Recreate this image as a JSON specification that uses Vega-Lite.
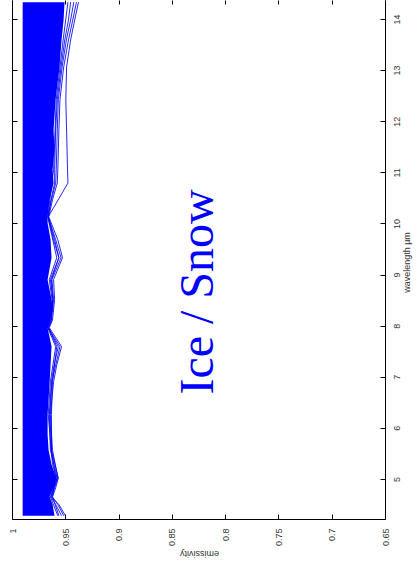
{
  "$schema": "https://vega.github.io/schema/vega-lite/v6.json",
  "autosize": {"type": "none"},
  "padding": {"left": 12, "top": 0, "right": 32, "bottom": 53},
  "width": 373,
  "height": 519,
  "background": "white",
  "config": {
    "view": {"stroke": null},
    "axis": {"grid": false, "domainColor": "#000", "tickColor": "#000", "labelColor": "#333", "titleColor": "#333", "labelFont": "Liberation Sans", "titleFont": "Liberation Sans", "labelFontSize": 9, "titleFontSize": 9, "titleFontWeight": "normal", "domainWidth": 1, "tickWidth": 1}
  },
  "datasets": {
    "inner": [
      {"w": 14.33, "e": 0.9507, "emax": 0.99}, {"w": 13.98, "e": 0.9516, "emax": 0.99}, {"w": 13.59, "e": 0.9535, "emax": 0.99}, {"w": 13.06, "e": 0.9554, "emax": 0.99},
      {"w": 12.42, "e": 0.9591, "emax": 0.99}, {"w": 11.83, "e": 0.9610, "emax": 0.99}, {"w": 11.44, "e": 0.9601, "emax": 0.99}, {"w": 11.05, "e": 0.9619, "emax": 0.99},
      {"w": 10.79, "e": 0.9610, "emax": 0.99}, {"w": 10.46, "e": 0.9647, "emax": 0.99}, {"w": 10.13, "e": 0.9666, "emax": 0.99}, {"w": 10.01, "e": 0.9666, "emax": 0.99},
      {"w": 9.68, "e": 0.9638, "emax": 0.99}, {"w": 9.33, "e": 0.9629, "emax": 0.99}, {"w": 8.90, "e": 0.9666, "emax": 0.99}, {"w": 8.51, "e": 0.9629, "emax": 0.99},
      {"w": 8.37, "e": 0.9619, "emax": 0.99}, {"w": 8.11, "e": 0.9638, "emax": 0.99}, {"w": 7.96, "e": 0.9666, "emax": 0.99}, {"w": 7.59, "e": 0.9629, "emax": 0.99},
      {"w": 7.23, "e": 0.9638, "emax": 0.99}, {"w": 6.90, "e": 0.9647, "emax": 0.99}, {"w": 6.55, "e": 0.9657, "emax": 0.99}, {"w": 6.26, "e": 0.9666, "emax": 0.99},
      {"w": 5.87, "e": 0.9666, "emax": 0.99}, {"w": 5.57, "e": 0.9657, "emax": 0.99}, {"w": 5.28, "e": 0.9629, "emax": 0.99}, {"w": 5.02, "e": 0.9582, "emax": 0.99},
      {"w": 4.83, "e": 0.9610, "emax": 0.99}, {"w": 4.65, "e": 0.9647, "emax": 0.99}, {"w": 4.50, "e": 0.9619, "emax": 0.99}, {"w": 4.28, "e": 0.9601, "emax": 0.99}
    ],
    "lines": [
      {"id": 1, "w": 14.33, "e": 0.9376}, {"id": 1, "w": 13.98, "e": 0.9412}, {"id": 1, "w": 13.59, "e": 0.9450}, {"id": 1, "w": 13.06, "e": 0.9488},
      {"id": 1, "w": 12.42, "e": 0.9495}, {"id": 1, "w": 11.83, "e": 0.9488}, {"id": 1, "w": 11.05, "e": 0.9479}, {"id": 1, "w": 10.79, "e": 0.9475},
      {"id": 1, "w": 10.13, "e": 0.9660}, {"id": 1, "w": 9.68, "e": 0.9600}, {"id": 1, "w": 9.33, "e": 0.9560}, {"id": 1, "w": 8.90, "e": 0.9630},
      {"id": 1, "w": 8.51, "e": 0.9620}, {"id": 1, "w": 8.11, "e": 0.9630}, {"id": 1, "w": 7.96, "e": 0.9655}, {"id": 1, "w": 7.59, "e": 0.9580},
      {"id": 1, "w": 6.90, "e": 0.9620}, {"id": 1, "w": 6.26, "e": 0.9630}, {"id": 1, "w": 5.57, "e": 0.9630}, {"id": 1, "w": 5.02, "e": 0.9590},
      {"id": 1, "w": 4.65, "e": 0.9620}, {"id": 1, "w": 4.28, "e": 0.9560},

      {"id": 2, "w": 14.33, "e": 0.9395}, {"id": 2, "w": 13.98, "e": 0.9430}, {"id": 2, "w": 13.59, "e": 0.9470}, {"id": 2, "w": 13.06, "e": 0.9515},
      {"id": 2, "w": 12.42, "e": 0.9550}, {"id": 2, "w": 11.83, "e": 0.9560}, {"id": 2, "w": 11.05, "e": 0.9570}, {"id": 2, "w": 10.79, "e": 0.9575},
      {"id": 2, "w": 10.46, "e": 0.9620}, {"id": 2, "w": 10.13, "e": 0.9655}, {"id": 2, "w": 9.68, "e": 0.9570}, {"id": 2, "w": 9.33, "e": 0.9526},
      {"id": 2, "w": 8.90, "e": 0.9610}, {"id": 2, "w": 8.51, "e": 0.9600}, {"id": 2, "w": 8.11, "e": 0.9620}, {"id": 2, "w": 7.96, "e": 0.9650},
      {"id": 2, "w": 7.59, "e": 0.9535}, {"id": 2, "w": 7.23, "e": 0.9580}, {"id": 2, "w": 6.90, "e": 0.9610}, {"id": 2, "w": 6.26, "e": 0.9640},
      {"id": 2, "w": 5.57, "e": 0.9620}, {"id": 2, "w": 5.02, "e": 0.9570}, {"id": 2, "w": 4.83, "e": 0.9600}, {"id": 2, "w": 4.65, "e": 0.9630},
      {"id": 2, "w": 4.50, "e": 0.9560}, {"id": 2, "w": 4.28, "e": 0.9498},

      {"id": 3, "w": 14.33, "e": 0.9420}, {"id": 3, "w": 13.98, "e": 0.9450}, {"id": 3, "w": 13.59, "e": 0.9490}, {"id": 3, "w": 13.06, "e": 0.9530},
      {"id": 3, "w": 12.42, "e": 0.9565}, {"id": 3, "w": 11.83, "e": 0.9575}, {"id": 3, "w": 11.05, "e": 0.9585}, {"id": 3, "w": 10.79, "e": 0.9590},
      {"id": 3, "w": 10.46, "e": 0.9630}, {"id": 3, "w": 10.13, "e": 0.9660}, {"id": 3, "w": 9.68, "e": 0.9590}, {"id": 3, "w": 9.33, "e": 0.9540},
      {"id": 3, "w": 8.90, "e": 0.9625}, {"id": 3, "w": 8.51, "e": 0.9610}, {"id": 3, "w": 8.11, "e": 0.9630}, {"id": 3, "w": 7.96, "e": 0.9660},
      {"id": 3, "w": 7.59, "e": 0.9550}, {"id": 3, "w": 7.23, "e": 0.9590}, {"id": 3, "w": 6.90, "e": 0.9625}, {"id": 3, "w": 6.26, "e": 0.9645},
      {"id": 3, "w": 5.57, "e": 0.9630}, {"id": 3, "w": 5.02, "e": 0.9565}, {"id": 3, "w": 4.83, "e": 0.9590}, {"id": 3, "w": 4.65, "e": 0.9620},
      {"id": 3, "w": 4.50, "e": 0.9570}, {"id": 3, "w": 4.28, "e": 0.9515},

      {"id": 4, "w": 14.33, "e": 0.9450}, {"id": 4, "w": 13.98, "e": 0.9470}, {"id": 4, "w": 13.59, "e": 0.9505}, {"id": 4, "w": 13.06, "e": 0.9540},
      {"id": 4, "w": 12.42, "e": 0.9575}, {"id": 4, "w": 11.83, "e": 0.9590}, {"id": 4, "w": 11.05, "e": 0.9600}, {"id": 4, "w": 10.79, "e": 0.9600},
      {"id": 4, "w": 10.46, "e": 0.9635}, {"id": 4, "w": 10.13, "e": 0.9662}, {"id": 4, "w": 9.68, "e": 0.9610}, {"id": 4, "w": 9.33, "e": 0.9560},
      {"id": 4, "w": 8.90, "e": 0.9640}, {"id": 4, "w": 8.51, "e": 0.9615}, {"id": 4, "w": 8.11, "e": 0.9635}, {"id": 4, "w": 7.96, "e": 0.9662},
      {"id": 4, "w": 7.59, "e": 0.9565}, {"id": 4, "w": 7.23, "e": 0.9605}, {"id": 4, "w": 6.90, "e": 0.9630}, {"id": 4, "w": 6.26, "e": 0.9650},
      {"id": 4, "w": 5.57, "e": 0.9640}, {"id": 4, "w": 5.02, "e": 0.9575}, {"id": 4, "w": 4.83, "e": 0.9605}, {"id": 4, "w": 4.65, "e": 0.9635},
      {"id": 4, "w": 4.50, "e": 0.9590}, {"id": 4, "w": 4.28, "e": 0.9535},

      {"id": 5, "w": 14.33, "e": 0.9475}, {"id": 5, "w": 13.59, "e": 0.9520}, {"id": 5, "w": 12.42, "e": 0.9585}, {"id": 5, "w": 11.05, "e": 0.9610},
      {"id": 5, "w": 10.13, "e": 0.9665}, {"id": 5, "w": 9.33, "e": 0.9580}, {"id": 5, "w": 8.90, "e": 0.9650}, {"id": 5, "w": 8.37, "e": 0.9615},
      {"id": 5, "w": 7.96, "e": 0.9665}, {"id": 5, "w": 7.59, "e": 0.9590}, {"id": 5, "w": 6.90, "e": 0.9640}, {"id": 5, "w": 6.26, "e": 0.9660},
      {"id": 5, "w": 5.28, "e": 0.9620}, {"id": 5, "w": 5.02, "e": 0.9578}, {"id": 5, "w": 4.65, "e": 0.9640}, {"id": 5, "w": 4.28, "e": 0.9570}
    ],
    "label": [{"w": 8.66, "e": 0.811, "text": "Ice / Snow"}]
  },
  "resolve": {"axis": {"x": "independent", "y": "independent"}},
  "layer": [
    {
      "data": {"name": "inner"},
      "mark": {"type": "area", "color": "#0000ff"},
      "encoding": {
        "y": {"field": "w", "type": "quantitative", "scale": {"domain": [4.217, 14.372], "nice": false, "zero": false},
          "axis": {"orient": "right", "values": [5, 6, 7, 8, 9, 10, 11, 12, 13, 14], "tickSize": -5, "labelAngle": 270, "labelAlign": "center", "labelBaseline": "top", "labelPadding": 12, "title": "wavelength µm", "titleAngle": 270, "titleBaseline": "alphabetic", "titleX": 24, "titleY": 262, "titleAlign": "center"}},
        "x": {"field": "e", "type": "quantitative", "scale": {"domain": [0.65, 1], "reverse": true, "nice": false, "zero": false},
          "axis": {"orient": "bottom", "values": [0.65, 0.7, 0.75, 0.8, 0.85, 0.9, 0.95, 1], "format": ".2~f", "tickSize": -5, "labelAngle": 270, "labelAlign": "right", "labelBaseline": "middle", "labelPadding": 14, "labelFlush": false, "labelOverlap": false, "title": "emissivity", "titleAngle": 180, "titleBaseline": "alphabetic", "titleAlign": "center", "titleX": 187, "titleY": 31}},
        "x2": {"field": "emax"}
      }
    },
    {
      "data": {"name": "lines"},
      "mark": {"type": "line", "color": "#0000ff", "strokeWidth": 1, "opacity": 0.85},
      "encoding": {
        "y": {"field": "w", "type": "quantitative",
          "axis": {"orient": "left", "values": [5, 6, 7, 8, 9, 10, 11, 12, 13, 14], "tickSize": -5, "labels": false, "title": null}},
        "x": {"field": "e", "type": "quantitative",
          "axis": {"orient": "top", "values": [0.65, 0.7, 0.75, 0.8, 0.85, 0.9, 0.95, 1], "tickSize": -4, "labels": false, "domain": false, "title": null}},
        "detail": {"field": "id", "type": "nominal"},
        "order": {"field": "w", "type": "quantitative"}
      }
    },
    {
      "data": {"name": "label"},
      "mark": {"type": "text", "font": "Liberation Serif", "fontSize": 48, "angle": 270, "align": "center", "baseline": "alphabetic", "color": "#0000ff"},
      "encoding": {
        "y": {"field": "w", "type": "quantitative", "axis": null},
        "x": {"field": "e", "type": "quantitative", "axis": null},
        "text": {"field": "text", "type": "nominal"}
      }
    }
  ]
}
